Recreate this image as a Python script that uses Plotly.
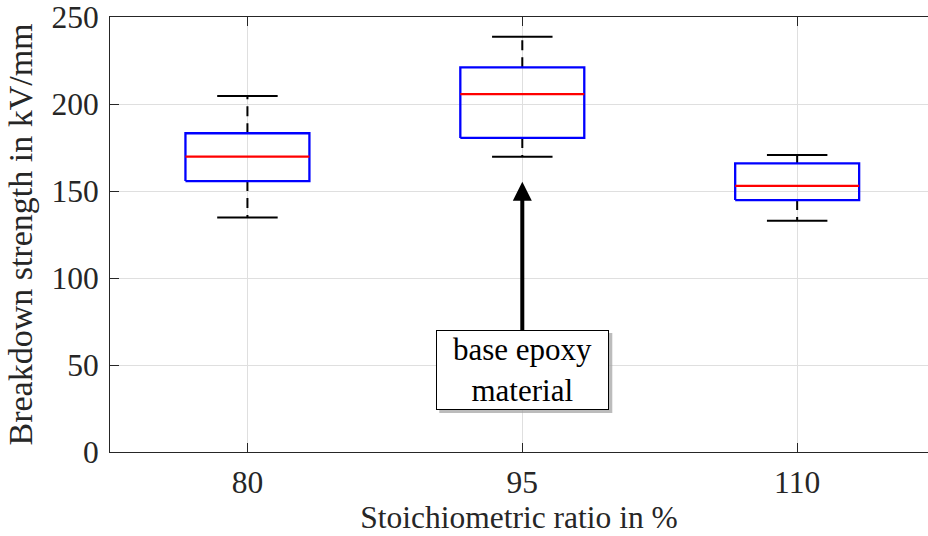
import plotly.graph_objects as go

# ---- data ----
categories = ["80", "95", "110"]
upper_whisker = [204.6, 238.7, 170.7]
q3 = [183.2, 221.1, 165.9]
median = [169.7, 205.7, 152.9]
q1 = [155.7, 180.5, 144.8]
lower_whisker = [134.7, 169.7, 132.9]
y_ticks = [0, 50, 100, 150, 200, 250]

annot_text = "base epoxy<br>material"
annot_target = 155.3  # arrow tip value
annot_tail = 68.0
annot_center = 47.1
annot_pos = 2

# ---- styles ----
FONT = "Times New Roman, Liberation Serif, DejaVu Serif, serif"
TXT = "#262626"
BOX_HW = 0.2255
CAP_HW = 0.11

positions = [i + 1 for i in range(len(categories))]

bx, by, mx, my, wx, wy, cx, cy = [], [], [], [], [], [], [], []
for p, uw, a3, md, a1, lw in zip(positions, upper_whisker, q3, median, q1, lower_whisker):
    bx += [p - BOX_HW, p + BOX_HW, p + BOX_HW, p - BOX_HW, p - BOX_HW, None]
    by += [a1, a1, a3, a3, a1, None]
    mx += [p - BOX_HW, p + BOX_HW, None]
    my += [md, md, None]
    wx += [p, p, None, p, p, None]
    wy += [a3, uw, None, a1, lw, None]
    cx += [p - CAP_HW, p + CAP_HW, None, p - CAP_HW, p + CAP_HW, None]
    cy += [uw, uw, None, lw, lw, None]

fig = go.Figure()
fig.add_trace(go.Scatter(x=wx, y=wy, mode="lines",
                         line=dict(color="black", width=2, dash="10px,7px"),
                         hoverinfo="skip", showlegend=False))
fig.add_trace(go.Scatter(x=cx, y=cy, mode="lines",
                         line=dict(color="black", width=2),
                         hoverinfo="skip", showlegend=False))
fig.add_trace(go.Scatter(x=bx, y=by, mode="lines",
                         line=dict(color="#0000ff", width=2.3),
                         hoverinfo="skip", showlegend=False))
fig.add_trace(go.Scatter(x=mx, y=my, mode="lines",
                         line=dict(color="#ff0000", width=2.3),
                         hoverinfo="skip", showlegend=False))

# arrow
fig.add_annotation(x=annot_pos, y=annot_target, ax=annot_pos, ay=annot_tail,
                   xref="x", yref="y", axref="x", ayref="y", text="",
                   showarrow=True, arrowhead=2, arrowwidth=4, arrowsize=0.95,
                   arrowcolor="black", standoff=0, startstandoff=0)
# shadow for the text box
fig.add_shape(type="rect", xref="x", yref="y", xsizemode="pixel", ysizemode="pixel",
              xanchor=annot_pos, yanchor=annot_center,
              x0=-83, x1=90, y0=-43, y1=37,
              fillcolor="#a0a0a0", line=dict(width=0), layer="above", opacity=0.7)
fig.add_annotation(x=annot_pos, y=annot_center, xref="x", yref="y",
                   text=annot_text, showarrow=False,
                   font=dict(family=FONT, size=31, color="black"),
                   bgcolor="white", bordercolor="black", borderwidth=1,
                   borderpad=0, width=171, height=78,
                   xanchor="center", yanchor="middle")

fig.update_layout(
    width=928, height=536,
    margin=dict(l=110, r=0, t=17, b=84),
    paper_bgcolor="white", plot_bgcolor="white",
    font=dict(family=FONT, size=31.5, color=TXT),
    showlegend=False,
)
fig.update_xaxes(
    range=[0.5, 3.476], tickvals=positions, ticktext=categories,
    showgrid=True, gridcolor="#dfdfdf", gridwidth=1,
    showline=True, linecolor="#262626", linewidth=1, mirror="ticks",
    ticks="inside", ticklen=9, tickcolor="#262626", tickwidth=1,
    zeroline=False, ticklabelstandoff=2,
    tickfont=dict(family=FONT, size=31.5, color=TXT),
    title=dict(text="Stoichiometric ratio in %", standoff=2,
               font=dict(family=FONT, size=31.5, color=TXT)),
)
fig.update_yaxes(
    range=[0, 250], tickvals=y_ticks,
    showgrid=True, gridcolor="#dfdfdf", gridwidth=1,
    showline=True, linecolor="#262626", linewidth=1,
    ticks="inside", ticklen=9, tickcolor="#262626", tickwidth=1,
    zeroline=False, ticklabelstandoff=4,
    tickfont=dict(family=FONT, size=31.5, color=TXT),
    title=dict(text="Breakdown strength in kV/mm", standoff=8,
               font=dict(family=FONT, size=34, color=TXT)),
)

fig.write_html("out.html")
